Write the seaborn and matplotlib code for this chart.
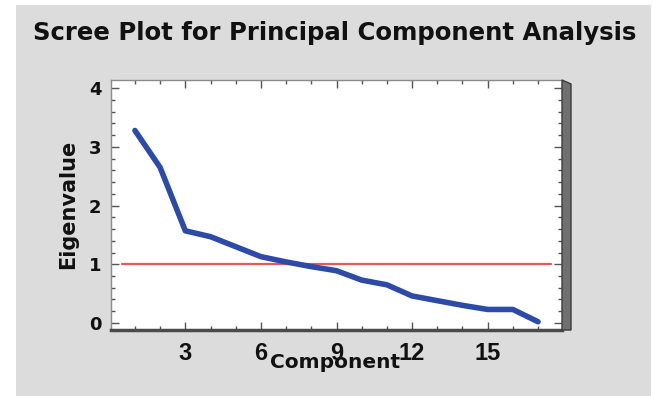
import matplotlib
matplotlib.use("Agg")
import matplotlib.pyplot as plt
import seaborn as sns
import pandas as pd
from matplotlib.patches import Rectangle, Polygon
from matplotlib.ticker import MultipleLocator

components = list(range(1, 18))
eigenvalues = [3.28, 2.65, 1.57, 1.47, 1.30, 1.13, 1.04, 0.96, 0.89,
               0.73, 0.65, 0.46, 0.38, 0.30, 0.23, 0.23, 0.02]
x_ticks = [3, 6, 9, 12, 15]
y_ticks = [0, 1, 2, 3, 4]
threshold = 1.0

sns.set_theme(style="white")
plt.rcParams['font.family'] = ['Liberation Sans', 'DejaVu Sans']

W, H = 654, 396
fig = plt.figure(figsize=(W / 100, H / 100), dpi=100, facecolor="white")
fig.patches.append(Rectangle((16 / W, 0), 1 - 19 / W, 1 - 5 / H,
                             transform=fig.transFigure, facecolor="#dcdcdc",
                             edgecolor="none", zorder=-10))

left, right, top, bottom = 111, 562, 80, 330
ax = fig.add_axes([left / W, 1 - bottom / H, (right - left) / W, (bottom - top) / H])
ax.set_facecolor("white")

df = pd.DataFrame({"Component": components, "Eigenvalue": eigenvalues})
sns.lineplot(data=df, x="Component", y="Eigenvalue", ax=ax, color="#2d4aa6",
             linewidth=4.0, solid_capstyle="round", solid_joinstyle="round", zorder=3)
ax.plot([0.5, 17.5], [threshold, threshold], color="#e8585a", linewidth=1.6, zorder=2)

ax.set_xlim(0.05, 17.95)
ax.set_ylim(-0.12, 4.14)
ax.set_xticks(x_ticks)
ax.set_yticks(y_ticks)
ax.xaxis.set_minor_locator(MultipleLocator(1))
ax.yaxis.set_minor_locator(MultipleLocator(0.2))
ax.tick_params(which="both", direction="in", top=True, right=True, bottom=True, left=True,
               color="#555555", width=1.0)
ax.tick_params(which="major", length=6)
ax.tick_params(which="minor", length=3)
ax.tick_params(axis="x", which="major", labelsize=17, pad=9)
ax.tick_params(axis="y", which="major", labelsize=13, pad=7)
for lab in ax.get_xticklabels():
    lab.set_fontweight("bold")
    lab.set_color("#111111")
for lab in ax.get_yticklabels():
    lab.set_fontweight("bold")
    lab.set_color("#111111")
    lab.set_family("DejaVu Sans")

for s in ["left", "top"]:
    ax.spines[s].set_color("#8a8a8a")
    ax.spines[s].set_linewidth(1.0)
ax.spines["bottom"].set_color("#4a4a4a")
ax.spines["bottom"].set_linewidth(2.5)
ax.spines["right"].set_visible(False)

# 3D shadow on the right side
dx = 9 / (right - left)
dy = 4 / (bottom - top)
ax.add_patch(Polygon([(1.0, 0.0), (1.0 + dx, 0.0), (1.0 + dx, 1.0 - dy), (1.0, 1.0)],
                     closed=True, transform=ax.transAxes, clip_on=False,
                     facecolor="#707070", edgecolor="#3a3a3a", linewidth=1.0, zorder=5))

ax.set_xlabel("")
ax.set_ylabel("")
fig.text(68 / W, 1 - 204 / H, "Eigenvalue", rotation=90, ha="center", va="center",
         fontsize=15, fontweight="bold", color="#111111", family="DejaVu Sans")
fig.text(335 / W, 1 - 362 / H, "Component", ha="center", va="center",
         fontsize=14.5, fontweight="bold", color="#111111", family="DejaVu Sans")
fig.text(335 / W, 1 - 33 / H, "Scree Plot for Principal Component Analysis",
         ha="center", va="center", fontsize=17.6, fontweight="bold", color="#111111",
         family="DejaVu Sans")

fig.savefig("out.png", dpi=100, facecolor="white")
